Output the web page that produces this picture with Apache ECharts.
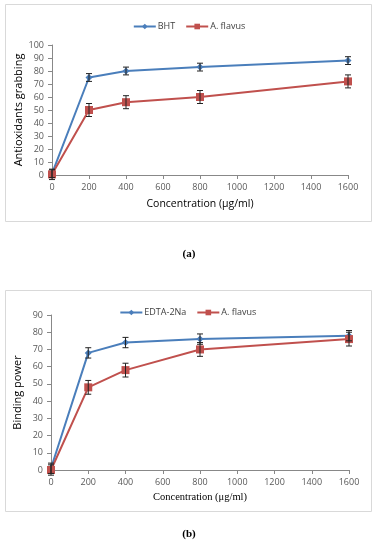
<!DOCTYPE html>
<html><head><meta charset="utf-8">
<script src="https://cdn.jsdelivr.net/npm/echarts@6/dist/echarts.min.js"></script>
<style>html,body{margin:0;padding:0;background:#fff}#c{width:378px;height:550px}</style>
</head><body><div id="c"></div>
<script>
const conc = [0, 200, 400, 800, 1600];
const bhtA = [1, 75, 80, 83, 88];
const bhtErrA = [3, 3, 3, 3, 3];
const flavA = [0.5, 50, 56, 60, 72];
const flavErrA = [4, 5, 5, 5, 5];
const edtaB = [1, 68, 74, 76, 78];
const edtaErrB = [3, 3, 3, 3, 3];
const flavB = [0, 48, 58, 70, 76];
const flavErrB = [3, 4, 4, 4, 4];

const blue = '#4a7ebb', red = '#c0504d';
const pairs = (xs, ys) => xs.map((x, i) => [x, ys[i]]);
const errs = (xs, ys, es) => xs.map((x, i) => [x, ys[i] - es[i], ys[i] + es[i]]);

function errRender(params, api) {
  const x = api.value(0), lo = api.value(1), hi = api.value(2);
  const a = api.coord([x, lo]), b = api.coord([x, hi]);
  const st = {stroke: '#222', lineWidth: 1};
  return {type: 'group', children: [
    {type: 'line', shape: {x1: a[0], y1: a[1], x2: b[0], y2: b[1]}, style: st},
    {type: 'line', shape: {x1: a[0]-3, y1: a[1], x2: a[0]+3, y2: a[1]}, style: st},
    {type: 'line', shape: {x1: b[0]-3, y1: b[1], x2: b[0]+3, y2: b[1]}, style: st}
  ]};
}

const axisCommon = {
  axisLine: {show: true, lineStyle: {color: '#888', width: 1}},
  axisTick: {show: true, inside: false, length: 4, lineStyle: {color: '#888'}},
  axisLabel: {color: '#595959', fontSize: 9, fontFamily: 'Open Sans', formatter: v => String(v)},
  splitLine: {show: false}
};

const chart = echarts.init(document.getElementById('c'), null, {renderer: 'canvas'});
chart.setOption({
  animation: false,
  backgroundColor: '#fff',
  graphic: [
    {type: 'rect', shape: {x: 5.5, y: 4.5, width: 366, height: 217}, style: {fill: 'none', stroke: '#d9d9d9', lineWidth: 1}},
    {type: 'rect', shape: {x: 5.5, y: 290.5, width: 366, height: 221}, style: {fill: 'none', stroke: '#d9d9d9', lineWidth: 1}},
    {type: 'text', left: 'center', top: 249, style: {text: '(a)', font: 'bold 11px "Liberation Serif"', fill: '#000'}},
    {type: 'text', left: 'center', top: 529, style: {text: '(b)', font: 'bold 11px "Liberation Serif"', fill: '#000'}}
  ],
  legend: [
    {top: 17, left: 'center', itemWidth: 22, itemHeight: 7, itemGap: 10,
     textStyle: {fontSize: 9, color: '#404040', fontFamily: 'Open Sans', padding: [0, 0, 0, -3]},
     data: ['BHT', 'A. flavus'], selectedMode: false},
    {top: 303, left: 'center', itemWidth: 22, itemHeight: 7, itemGap: 10,
     textStyle: {fontSize: 9, color: '#404040', fontFamily: 'Open Sans', padding: [0, 0, 0, -3]},
     data: ['EDTA-2Na', 'A. flavus '], selectedMode: false}
  ],
  grid: [
    {left: 52, right: 30, top: 45, height: 130},
    {left: 51, right: 29, top: 315, height: 155}
  ],
  xAxis: [
    Object.assign({}, axisCommon, {gridIndex: 0, type: 'value', min: 0, max: 1600, interval: 200,
      name: 'Concentration (μg/ml)', nameLocation: 'middle', nameGap: 24, nameMoveOverlap: false,
      nameTextStyle: {fontSize: 10.5, color: '#000', fontFamily: 'Open Sans'}}),
    Object.assign({}, axisCommon, {gridIndex: 1, type: 'value', min: 0, max: 1600, interval: 200,
      name: 'Concentration (μg/ml)', nameLocation: 'middle', nameGap: 22, nameMoveOverlap: false,
      nameTextStyle: {fontSize: 10.5, color: '#000', fontFamily: 'Liberation Serif'}})
  ],
  yAxis: [
    Object.assign({}, axisCommon, {gridIndex: 0, type: 'value', min: 0, max: 100, interval: 10,
      name: 'Antioxidants grabbing', nameLocation: 'middle', nameGap: 28, nameMoveOverlap: false,
      nameTextStyle: {fontSize: 11, color: '#000', fontFamily: 'Open Sans'}}),
    Object.assign({}, axisCommon, {gridIndex: 1, type: 'value', min: 0, max: 90, interval: 10,
      name: 'Binding power', nameLocation: 'middle', nameGap: 28, nameMoveOverlap: false,
      nameTextStyle: {fontSize: 11, color: '#000', fontFamily: 'Open Sans'}})
  ],
  series: [
    {name: 'BHT', type: 'line', xAxisIndex: 0, yAxisIndex: 0, data: pairs(conc, bhtA),
     symbol: 'diamond', symbolSize: 7, color: blue, lineStyle: {width: 2}, z: 3},
    {name: 'A. flavus', type: 'line', xAxisIndex: 0, yAxisIndex: 0, data: pairs(conc, flavA),
     symbol: 'rect', symbolSize: 8, color: red, lineStyle: {width: 2}, z: 3},
    {type: 'custom', xAxisIndex: 0, yAxisIndex: 0, renderItem: errRender, data: errs(conc, bhtA, bhtErrA), z: 4, silent: true},
    {type: 'custom', xAxisIndex: 0, yAxisIndex: 0, renderItem: errRender, data: errs(conc, flavA, flavErrA), z: 4, silent: true},
    {name: 'EDTA-2Na', type: 'line', xAxisIndex: 1, yAxisIndex: 1, data: pairs(conc, edtaB),
     symbol: 'diamond', symbolSize: 7, color: blue, lineStyle: {width: 2}, z: 3},
    {name: 'A. flavus ', type: 'line', xAxisIndex: 1, yAxisIndex: 1, data: pairs(conc, flavB),
     symbol: 'rect', symbolSize: 8, color: red, lineStyle: {width: 2}, z: 3},
    {type: 'custom', xAxisIndex: 1, yAxisIndex: 1, renderItem: errRender, data: errs(conc, edtaB, edtaErrB), z: 4, silent: true},
    {type: 'custom', xAxisIndex: 1, yAxisIndex: 1, renderItem: errRender, data: errs(conc, flavB, flavErrB), z: 4, silent: true}
  ]
});
</script></body></html>
